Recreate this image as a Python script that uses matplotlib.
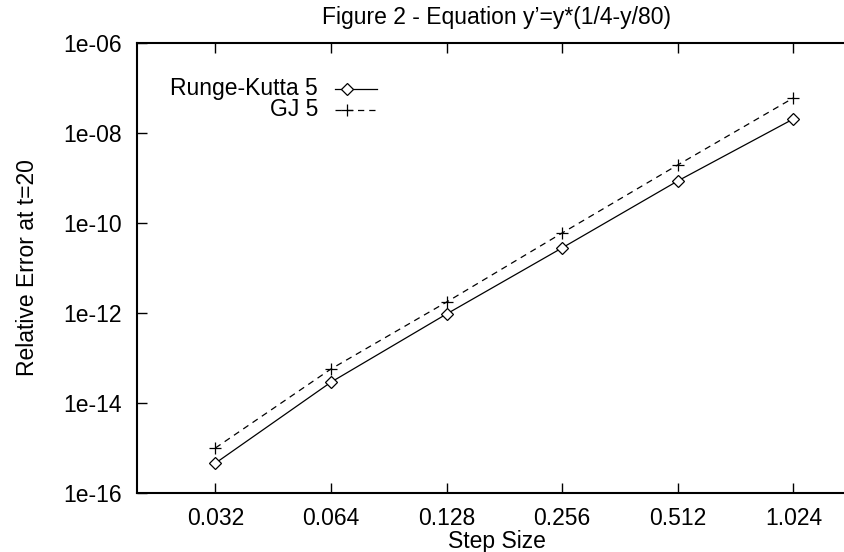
import matplotlib.pyplot as plt
from matplotlib.lines import Line2D

plt.rcParams['font.family'] = ['Liberation Sans', 'DejaVu Sans']

# data
step = [0.032, 0.064, 0.128, 0.256, 0.512, 1.024]
step_labels = ["0.032", "0.064", "0.128", "0.256", "0.512", "1.024"]
rk5 = [4.6e-16, 2.9e-14, 9.5e-13, 2.8e-11, 8.6e-10, 2.05e-08]
gj5 = [1.0e-15, 5.7e-14, 1.75e-12, 6.0e-11, 1.95e-09, 6.0e-08]
yticks = [1e-16, 1e-14, 1e-12, 1e-10, 1e-08, 1e-06]
ytick_labels = ["1e-16", "1e-14", "1e-12", "1e-10", "1e-08", "1e-06"]

FS = 16.5

fig = plt.figure(figsize=(8.45, 5.52), dpi=100)
# plot box runs a little past the right edge of the picture
ax = fig.add_axes([137 / 845, 59 / 552, 720 / 845, 450 / 552])

ax.plot(step, rk5, color="black", lw=0.9, marker="D", markersize=6.5,
        markerfacecolor="white", markeredgecolor="black", markeredgewidth=0.9)
ax.plot(step, gj5, color="black", lw=0.9, ls=(0, (5, 4)), marker="+",
        markersize=9, markeredgewidth=0.9)

ax.set_xscale("log", base=2)
ax.set_yscale("log")
ax.set_xlim(0.02, 1.5)
ax.set_ylim(1e-16, 1e-06)

ax.set_xticks(step)
ax.set_xticklabels(step_labels)
ax.set_yticks(yticks)
ax.set_yticklabels(ytick_labels)
ax.minorticks_off()
ax.tick_params(direction="in", length=7, width=1, labelsize=FS, top=True,
               right=False, pad=11)
ax.tick_params(axis="x", pad=10)

for s in ["left", "top", "bottom"]:
    ax.spines[s].set_linewidth(1.5)
ax.spines["right"].set_visible(False)

ax.set_xlabel("Step Size", fontsize=FS, labelpad=0)
ax.set_ylabel("Relative Error at t=20", fontsize=FS, labelpad=17)
ax.set_title("Figure 2 - Equation y\u2019=y*(1/4-y/80)", fontsize=FS, pad=14)

# gnuplot-style key: text right-aligned, sample on the right
tr = ax.transAxes
x_txt = (318 - 137) / 720
x0, x1 = (335 - 137) / 720, (377 - 137) / 720
rows = [(1 - (89 - 43) / 450, "Runge-Kutta 5"), (1 - (110 - 43) / 450, "GJ 5")]
ax.text(x_txt, rows[0][0], rows[0][1], transform=tr, ha="right", va="center", fontsize=FS)
ax.text(x_txt, rows[1][0], rows[1][1], transform=tr, ha="right", va="center", fontsize=FS)
ax.add_line(Line2D([x0, x1], [rows[0][0]] * 2, transform=tr, color="black", lw=0.9))
ax.add_line(Line2D([(x0 + x1) / 2 - 0.012], [rows[0][0]], transform=tr, marker="D",
                   markersize=6.5, markerfacecolor="white", markeredgecolor="black",
                   markeredgewidth=0.9))
ax.add_line(Line2D([x0, x1], [rows[1][0]] * 2, transform=tr, color="black", lw=0.9,
                   ls=(0, (5, 4))))
ax.add_line(Line2D([(x0 + x1) / 2 - 0.012], [rows[1][0]], transform=tr, marker="+",
                   markersize=9, markeredgewidth=0.9, color="black"))

fig.savefig("out.png", dpi=100)
